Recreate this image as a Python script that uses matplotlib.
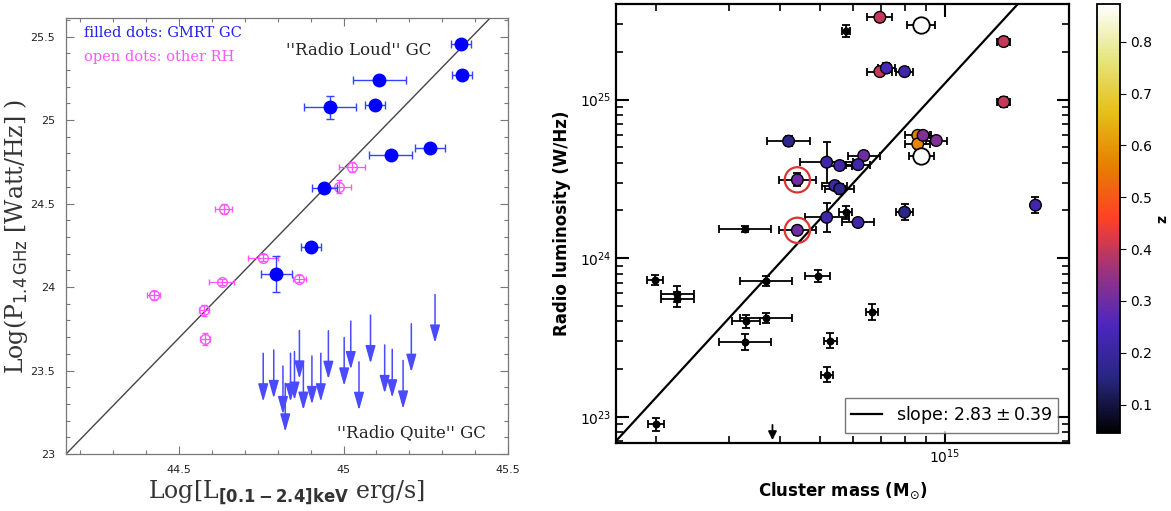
import numpy as np
import matplotlib.pyplot as plt
import matplotlib.ticker as mticker

# ---------------- left panel: radio power vs X-ray luminosity ----------------
# filled dots: GMRT GC
gmrt_lx = [45.358, 45.36, 45.109, 44.959, 45.095, 45.143, 45.263, 44.942, 44.902, 44.796]
gmrt_p = [25.453, 25.27, 25.24, 25.076, 25.09, 24.79, 24.83, 24.595, 24.24, 24.078]
gmrt_lx_err = [0.03, 0.03, 0.08, 0.078, 0.03, 0.065, 0.045, 0.038, 0.03, 0.048]
gmrt_p_err = [0.02, 0.02, 0.02, 0.07, 0.02, 0.02, 0.02, 0.02, 0.02, 0.105]

# open dots: other RH
rh_lx = [45.025, 44.987, 44.636, 44.756, 44.866, 44.63, 44.423, 44.577, 44.58]
rh_p = [24.72, 24.60, 24.47, 24.175, 24.05, 24.03, 23.95, 23.86, 23.687]
rh_lx_err = [0.04, 0.035, 0.025, 0.045, 0.02, 0.038, 0.02, 0.015, 0.015]
rh_p_err = [0.03, 0.04, 0.03, 0.02, 0.02, 0.02, 0.025, 0.035, 0.035]

# upper limits ("radio quiet" clusters)
uplim_lx = [44.756, 44.788, 44.816, 44.823, 44.839, 44.851, 44.866, 44.878, 44.904, 44.931,
            44.954, 45.002, 45.022, 45.047, 45.082, 45.125, 45.148, 45.181, 45.206, 45.278]
uplim_p = [23.603, 23.623, 23.527, 23.423, 23.603, 23.613, 23.740, 23.553, 23.587, 23.603,
           23.738, 23.698, 23.796, 23.552, 23.832, 23.653, 23.627, 23.560, 23.780, 23.955]
uplim_len = 0.29

# correlation line (two end points)
corr_lx = [44.157, 45.45]
corr_p = [23.0, 25.62]

# ---------------- right panel: radio luminosity vs cluster mass ----------------
mass = [5.78e14, 4.19e14, 6.97e14, 6.97e14, 7.23e14, 8.0e14, 1.39e15, 1.39e15, 8.61e14, 8.61e14,
        8.87e14, 9.55e14, 1.66e15, 8.0e14, 6.17e14, 5.76e14, 6.37e14, 6.17e14, 5.57e14, 5.18e14,
        4.40e14, 5.42e14, 5.57e14, 5.18e14, 4.40e14, 3.28e14, 1.99e14, 2.25e14, 2.25e14, 3.70e14,
        3.70e14, 3.31e14, 3.28e14, 4.93e14, 5.29e14, 5.19e14, 2.0e14, 6.68e14]
lum = [2.70e25, 5.47e24, 3.30e25, 1.50e25, 1.58e25, 1.50e25, 2.32e25, 9.66e24, 5.95e24, 5.25e24,
       5.95e24, 5.52e24, 2.16e24, 1.95e24, 1.68e24, 1.95e24, 4.44e24, 3.89e24, 3.84e24, 4.03e24,
       3.12e24, 2.87e24, 2.74e24, 1.81e24, 1.50e24, 1.53e24, 7.27e23, 5.92e23, 5.5e23, 7.18e23,
       4.21e23, 4.01e23, 2.95e23, 7.73e23, 3.03e23, 1.85e23, 8.98e22, 4.6e23]
redshift = [0.05, 0.17, 0.40, 0.40, 0.24, 0.22, 0.40, 0.40, 0.56, 0.57,
            0.32, 0.32, 0.22, 0.16, 0.22, 0.05, 0.30, 0.22, 0.22, 0.22,
            0.30, 0.22, 0.17, 0.22, 0.30, 0.05, 0.05, 0.05, 0.05, 0.05,
            0.05, 0.05, 0.05, 0.05, 0.05, 0.05, 0.05, 0.05]
mass_err_dex = [0.01, 0.053, 0.03, 0.03, 0.02, 0.02, 0.015, 0.015, 0.03, 0.03,
                0.02, 0.025, 0.008, 0.02, 0.039, 0.015, 0.039, 0.03, 0.03, 0.065,
                0.044, 0.03, 0.035, 0.053, 0.044, 0.063, 0.02, 0.04, 0.04, 0.063,
                0.063, 0.034, 0.063, 0.03, 0.015, 0.015, 0.02, 0.015]
lum_err_dex = [0.04, 0.03, 0.03, 0.03, 0.03, 0.03, 0.03, 0.03, 0.03, 0.03,
               0.03, 0.03, 0.05, 0.05, 0.03, 0.04, 0.03, 0.03, 0.03, 0.13,
               0.04, 0.03, 0.03, 0.09, 0.03, 0.02, 0.03, 0.05, 0.05, 0.03,
               0.03, 0.04, 0.05, 0.04, 0.05, 0.05, 0.04, 0.05]

# clusters without redshift colour (open circles)
open_mass = [8.79e14, 8.79e14]
open_lum = [2.95e25, 4.44e24]
open_mass_err_dex = [0.034, 0.03]

# highlighted clusters (red rings)
ring_mass = [4.40e14, 4.40e14]
ring_lum = [3.12e24, 1.50e24]

# upper limit
ul_mass = [3.83e14]
ul_lum = [8.9e22]

slope, slope_err = 2.83, 0.39
norm_log = 25.10  # log10 L at 1e15 Msun


def dex_err(v, d):
    v = np.asarray(v)
    d = np.asarray(d)
    return [v - v * 10 ** (-d), v * 10 ** d - v]


fig = plt.figure(figsize=(11.71, 5.11), dpi=100)
serif = 'DejaVu Serif'

# ======================= left =======================
ax1 = fig.add_axes([0.0564, 0.1115, 0.3775, 0.853])
ax1.plot(corr_lx, corr_p, color='#444444', lw=1.0, zorder=1)

ax1.errorbar(rh_lx, rh_p, xerr=rh_lx_err, yerr=rh_p_err, fmt='o', ms=7,
             mfc='none', mec='#ff55ff', mew=1.0, ecolor='#ff55ff', elinewidth=0.9,
             capsize=2, capthick=0.9, zorder=3)
ax1.errorbar(gmrt_lx, gmrt_p, xerr=gmrt_lx_err, yerr=gmrt_p_err, fmt='o', ms=9,
             color='#0000ff', ecolor='#3344ff', elinewidth=1.0, capsize=3,
             capthick=1.0, zorder=4)

for x, y in zip(uplim_lx, uplim_p):
    ax1.annotate('', xy=(x, y - uplim_len), xytext=(x, y),
                 arrowprops=dict(arrowstyle='-|>,head_length=0.6,head_width=0.17',
                                 color='#4a4aff', lw=1.1, mutation_scale=18,
                                 shrinkA=0, shrinkB=0))

ax1.set_xlim(44.157, 45.5)
ax1.set_ylim(23.0, 25.61)
ax1.xaxis.set_major_locator(mticker.MultipleLocator(0.5))
ax1.xaxis.set_minor_locator(mticker.MultipleLocator(0.1))
ax1.yaxis.set_major_locator(mticker.MultipleLocator(0.5))
ax1.yaxis.set_minor_locator(mticker.MultipleLocator(0.1))
ax1.xaxis.set_major_formatter(mticker.FormatStrFormatter('%g'))
ax1.yaxis.set_major_formatter(mticker.FormatStrFormatter('%g'))
ax1.tick_params(which='both', direction='in', top=True, right=True,
                color='#777777', labelsize=8, labelcolor='#222222')
ax1.tick_params(which='major', length=6, width=0.8, pad=8)
ax1.tick_params(which='minor', length=3, width=0.8)
for s in ax1.spines.values():
    s.set_color('#777777')
    s.set_linewidth(0.9)

ax1.set_xlabel(r'Log[L$_{\mathbf{[0.1-2.4]keV}}$ erg/s]', family=serif,
               fontsize=17, color='#333333', labelpad=2)
ax1.set_ylabel(r'Log(P$_{\rm 1.4\,GHz}$ [Watt/Hz] )', family=serif,
               fontsize=17, color='#333333', labelpad=0)

ax1.text(0.04, 0.965, 'filled dots: GMRT GC', transform=ax1.transAxes,
         family=serif, fontsize=10.5, color='#2222ee', va='center')
ax1.text(0.04, 0.91, 'open dots: other RH', transform=ax1.transAxes,
         family=serif, fontsize=10.5, color='#ff55ff', va='center')
ax1.text(0.826, 0.925, "''Radio Loud'' GC", transform=ax1.transAxes,
         family=serif, fontsize=12, color='#222222', va='center', ha='right')
ax1.text(0.95, 0.048, "''Radio Quite'' GC", transform=ax1.transAxes,
         family=serif, fontsize=12, color='#222222', va='center', ha='right')

# ======================= right =======================
ax2 = fig.add_axes([0.526, 0.1331, 0.3868, 0.859])
ax2.set_xscale('log')
ax2.set_yscale('log')

m_line = np.logspace(14.1, 15.4, 50)
ax2.plot(m_line, 10 ** norm_log * (m_line / 1e15) ** slope, color='k', lw=1.6,
         label=r'slope: $2.83 \pm 0.39$', zorder=1)

mass_a = np.array(mass)
lum_a = np.array(lum)
z_a = np.array(redshift)
ax2.errorbar(mass_a, lum_a, xerr=dex_err(mass_a, mass_err_dex),
             yerr=dex_err(lum_a, lum_err_dex), fmt='none', ecolor='k',
             elinewidth=1.3, capsize=3, capthick=1.3, zorder=2)
ax2.errorbar(open_mass, open_lum, xerr=dex_err(open_mass, open_mass_err_dex),
             yerr=dex_err(open_lum, [0.02, 0.02]), fmt='none', ecolor='k',
             elinewidth=1.3, capsize=3, capthick=1.3, zorder=2)

small = z_a < 0.08
sc = ax2.scatter(mass_a[~small], lum_a[~small], c=z_a[~small], cmap='CMRmap',
                 vmin=0.045, vmax=0.873, s=70, edgecolors='k', linewidths=1.0, zorder=3)
ax2.scatter(mass_a[small], lum_a[small], c='k', s=22, marker='o', zorder=3)
ax2.scatter(open_mass, open_lum, facecolors='white', edgecolors='k', s=140,
            linewidths=1.3, zorder=3)
ax2.scatter(ring_mass, ring_lum, facecolors='none', edgecolors='#dd3333', s=330,
            linewidths=1.6, zorder=4)
for mx, ly in zip(ul_mass, ul_lum):
    ax2.annotate('', xy=(mx, 7.15e22), xytext=(mx, ly),
                 arrowprops=dict(arrowstyle='-|>,head_length=0.5,head_width=0.25',
                                 color='k', lw=1.3, mutation_scale=10,
                                 shrinkA=0, shrinkB=0))

ax2.set_xlim(1.6e14, 2.0e15)
ax2.set_ylim(6.85e22, 4.0e25)
ax2.xaxis.set_minor_formatter(mticker.NullFormatter())
ax2.tick_params(which='both', direction='in', top=True, right=True, labelsize=10)
ax2.tick_params(which='major', length=9, width=1.5)
ax2.tick_params(which='minor', length=5, width=1.2)
for s in ax2.spines.values():
    s.set_linewidth(1.6)
ax2.set_xlabel(r'Cluster mass (M$_{\odot}$)', fontsize=12, fontweight='bold', labelpad=10)
ax2.set_ylabel('Radio luminosity (W/Hz)', fontsize=12, fontweight='bold', labelpad=6)

leg = ax2.legend(loc='lower right', fontsize=12.5, frameon=True, fancybox=False,
                 borderaxespad=0.6, handlelength=1.8, borderpad=0.35)
leg.get_frame().set_edgecolor('#555555')
leg.get_frame().set_linewidth(1.0)

cax = fig.add_axes([0.9368, 0.1526, 0.0196, 0.8395])
cb = fig.colorbar(sc, cax=cax)
cb.set_ticks([0.1, 0.2, 0.3, 0.4, 0.5, 0.6, 0.7, 0.8])
cb.ax.tick_params(labelsize=10, length=4)
cb.outline.set_linewidth(1.3)
cb.set_label('z', fontsize=10, fontweight='bold', labelpad=2)

fig.savefig('out.png', dpi=100)
